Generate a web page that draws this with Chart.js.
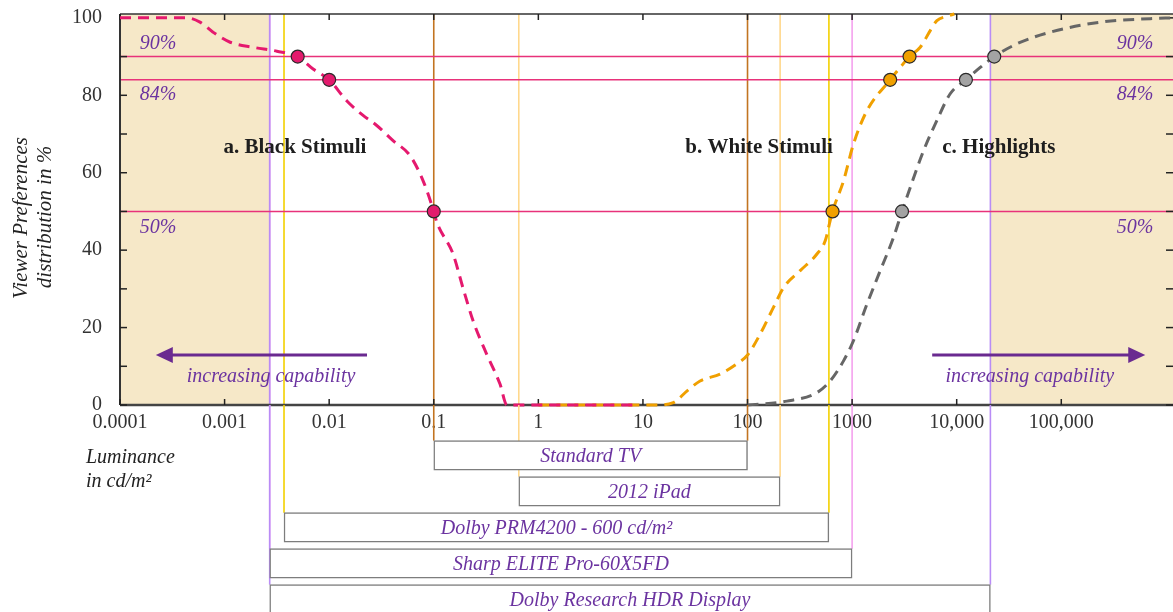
<!DOCTYPE html>
<html>
<head>
<meta charset="utf-8">
<script src="https://cdn.jsdelivr.net/npm/chart.js@4.4.1/dist/chart.umd.min.js"></script>
<style>
html,body{margin:0;padding:0;background:#fff;overflow:hidden;}
#wrap{position:relative;width:1173px;height:612px;}
#top{position:absolute;left:0;top:0;width:1173px;height:440px;}
#bot{position:absolute;left:0;top:405px;width:1173px;height:215px;}
</style>
</head>
<body>
<div id="wrap">
  <div id="top"><canvas id="mainChart"></canvas></div>
  <div id="bot"><canvas id="displayChart"></canvas></div>
</div>
<script>
// axis ticks
const xTicks = [0.0001, 0.001, 0.01, 0.1, 1, 10, 100, 1000, 10000, 100000];
const xTickLabels = ["0.0001", "0.001", "0.01", "0.1", "1", "10", "100", "1000", "10,000", "100,000"];
const yTicks = [0, 10, 20, 30, 40, 50, 60, 70, 80, 90, 100];
const yTickLabels = ["0", "", "20", "", "40", "", "60", "", "80", "", "100"];

// a. black stimuli (cd/m2 -> % of viewers)
const blackX = [0.0001, 0.000435, 0.000582, 0.000776, 0.00113, 0.00187, 0.00316, 0.005, 0.00702, 0.01, 0.0147, 0.0211, 0.0285, 0.0408, 0.0594, 0.0791, 0.1, 0.107, 0.153, 0.19, 0.238, 0.321, 0.43, 0.5, 8];
const blackY = [100, 100, 98.9, 96.3, 93.7, 92.4, 91.4, 90, 86.8, 84, 78.6, 74.8, 72.2, 68.3, 64.4, 57.9, 50, 47.2, 39, 30.3, 21.7, 13.1, 5.4, 0, 0];
// b. white stimuli
const whiteX = [1, 13.6, 19.5, 26.3, 35.2, 54.7, 79, 100, 132, 177, 221, 319, 461, 553, 617, 650, 828, 1030, 1384, 2312, 2884, 3541, 4480, 5585, 6470, 8070, 9500];
const whiteY = [0, 0, 0.6, 3.6, 6.2, 8, 10.6, 12.9, 18.3, 25.2, 30.3, 34.7, 39, 42.4, 47.6, 50, 57.9, 67.4, 76, 84, 87.2, 90, 92.4, 96.7, 99.3, 100.4, 101];
// c. highlights
const highX = [100, 238, 461, 617, 828, 1030, 1384, 1857, 2489, 3000, 3597, 4823, 6470, 8670, 12250, 16790, 22860, 37670, 78400, 236000, 710000, 1170000];
const highY = [0, 1, 3.2, 6.2, 11.4, 16.6, 26, 34.7, 43.3, 50, 56.2, 65.7, 73.5, 80.4, 84, 87.2, 90, 93.3, 96.3, 98.9, 99.8, 100];

// marked percentiles
const blackMarkX = [0.005, 0.01, 0.1];
const blackMarkY = [90, 84, 50];
const whiteMarkX = [650, 2312, 3541];
const whiteMarkY = [50, 84, 90];
const highMarkX = [3000, 12250, 22860];
const highMarkY = [50, 84, 90];

const refLevels = [90, 84, 50];
const refLabels = ["90%", "84%", "50%"];
const regionLabels = ["a. Black Stimuli", "b. White Stimuli", "c. Highlights"];

// display luminance ranges
const displayNames = ["Standard TV", "2012 iPad", "Dolby PRM4200 - 600 cd/m\u00B2", "Sharp ELITE Pro-60X5FD", "Dolby Research HDR Display"];
const displayMin = [0.1, 0.65, 0.0037, 0.0027, 0.0027];
const displayMax = [100, 205, 600, 1000, 21000];

// styles
const displayColors = ["#c27421", "#ffd88c", "#f3d000", "#f4a2ee", "#b98cf6"];
const serif = "'Liberation Serif', 'DejaVu Serif', serif";
const purple = "#6b33a0";
const X_MAX = 1.17e6;

function pts(xs, ys){ return xs.map((x, i) => ({x, y: ys[i]})); }
function curve(xs, ys, color){
  return { data: pts(xs, ys), borderColor: color, borderWidth: 3, borderDash: [11, 7], order: 2,
    pointRadius: 0, cubicInterpolationMode: "monotone", clip: 6, fill: false };
}
function marks(xs, ys, color){
  return { data: pts(xs, ys), showLine: false, pointRadius: 6.5, pointBackgroundColor: color, order: 1,
    pointBorderColor: "#2a2a2a", pointBorderWidth: 1.2, borderColor: color, clip: 10 };
}
// drop the automatic label padding so the plot box sits where the figure has it
function noPad(s){ s.paddingTop = 0; s.paddingBottom = 0; s.paddingLeft = 0; s.paddingRight = 0; }

// ---------- main chart decoration ----------
const mainDecor = {
  id: "mainDecor",
  beforeDatasetsDraw(chart){
    const {ctx, chartArea: a, scales: {x, y}} = chart;
    ctx.save();
    // shaded "beyond capability" zones
    const lo = x.getPixelForValue(displayMin[4]);
    const hi = x.getPixelForValue(displayMax[4]);
    ctx.fillStyle = "#f6e8c8";
    ctx.fillRect(a.left, a.top, lo - a.left, a.bottom - a.top);
    ctx.fillRect(hi, a.top, a.right - hi, a.bottom - a.top);
    // display range lines
    ctx.lineWidth = 1.6;
    displayNames.forEach((n, i) => {
      ctx.strokeStyle = displayColors[i];
      [displayMin[i], displayMax[i]].forEach(v => {
        const px = x.getPixelForValue(v);
        ctx.beginPath(); ctx.moveTo(px, a.top); ctx.lineTo(px, a.bottom); ctx.stroke();
      });
    });
    // percentile lines
    ctx.strokeStyle = "#e8327a";
    ctx.lineWidth = 1.5;
    refLevels.forEach(v => {
      const py = y.getPixelForValue(v);
      ctx.beginPath(); ctx.moveTo(a.left, py); ctx.lineTo(a.right, py); ctx.stroke();
    });
    // frame
    ctx.strokeStyle = "#333";
    ctx.lineWidth = 1.5;
    ctx.beginPath(); ctx.moveTo(a.left, a.top); ctx.lineTo(a.right, a.top); ctx.stroke();
    ctx.lineWidth = 2;
    ctx.beginPath(); ctx.moveTo(a.left, a.top); ctx.lineTo(a.left, a.bottom); ctx.stroke();
    ctx.strokeStyle = "#444";
    ctx.lineWidth = 2.5;
    ctx.beginPath(); ctx.moveTo(a.left, a.bottom); ctx.lineTo(a.right, a.bottom); ctx.stroke();
    // inward tick marks
    ctx.strokeStyle = "#222";
    ctx.lineWidth = 1.5;
    yTicks.forEach(v => {
      const py = y.getPixelForValue(v);
      ctx.beginPath(); ctx.moveTo(a.left, py); ctx.lineTo(a.left + 7, py); ctx.stroke();
      ctx.beginPath(); ctx.moveTo(a.right, py); ctx.lineTo(a.right - 7, py); ctx.stroke();
    });
    xTicks.forEach(v => {
      const px = x.getPixelForValue(v);
      ctx.beginPath(); ctx.moveTo(px, a.top); ctx.lineTo(px, a.top + 6); ctx.stroke();
      ctx.beginPath(); ctx.moveTo(px, a.bottom); ctx.lineTo(px, a.bottom - 6); ctx.stroke();
    });
    ctx.restore();
  },
  afterDatasetsDraw(chart){
    const {ctx, scales: {x, y}} = chart;
    ctx.save();
    ctx.textAlign = "center";
    ctx.textBaseline = "middle";
    // percentile labels, both sides
    ctx.fillStyle = purple;
    ctx.font = "italic 20px " + serif;
    const labelY = [93.3, 80.1, 45.7];
    refLabels.forEach((t, i) => {
      const py = y.getPixelForValue(labelY[i]);
      ctx.fillText(t, x.getPixelForValue(0.000231), py);
      ctx.fillText(t, x.getPixelForValue(507000), py);
    });
    // region titles
    ctx.fillStyle = "#1e1e1e";
    ctx.font = "bold 21px " + serif;
    const regionX = [0.00471, 129, 25300];
    regionLabels.forEach((t, i) => ctx.fillText(t, x.getPixelForValue(regionX[i]), y.getPixelForValue(66.4)));
    // capability arrows
    const ay = y.getPixelForValue(12.9);
    const arrow = (from, to) => {
      const x0 = x.getPixelForValue(from), x1 = x.getPixelForValue(to);
      const dir = Math.sign(x1 - x0);
      ctx.strokeStyle = "#6a2a90"; ctx.fillStyle = "#6a2a90"; ctx.lineWidth = 3;
      ctx.beginPath(); ctx.moveTo(x0, ay); ctx.lineTo(x1 - dir * 14, ay); ctx.stroke();
      ctx.beginPath(); ctx.moveTo(x1, ay); ctx.lineTo(x1 - dir * 17, ay - 8); ctx.lineTo(x1 - dir * 17, ay + 8); ctx.closePath(); ctx.fill();
    };
    arrow(0.023, 0.00022);
    arrow(5830, 635000);
    ctx.fillStyle = purple;
    ctx.font = "italic 20px " + serif;
    const ty = y.getPixelForValue(7.2);
    ctx.fillText("increasing capability", x.getPixelForValue(0.00278), ty);
    ctx.fillText("increasing capability", x.getPixelForValue(50000), ty);
    // y axis title
    ctx.fillStyle = "#222";
    ctx.font = "italic 21px " + serif;
    ctx.save(); ctx.translate(21, 218); ctx.rotate(-Math.PI / 2); ctx.fillText("Viewer Preferences", 0, 0); ctx.restore();
    ctx.save(); ctx.translate(45, 217); ctx.rotate(-Math.PI / 2); ctx.fillText("distribution in %", 0, 0); ctx.restore();
    ctx.restore();
  }
};

const mainChart = new Chart(document.getElementById("mainChart"), {
  type: "line",
  data: {
    datasets: [
      curve(blackX, blackY, "#e5196e"),
      curve(whiteX, whiteY, "#f0a000"),
      curve(highX, highY, "#666666"),
      marks(blackMarkX, blackMarkY, "#e31b6d"),
      marks(whiteMarkX, whiteMarkY, "#f0a000"),
      marks(highMarkX, highMarkY, "#a3a3a3")
    ]
  },
  options: {
    responsive: true,
    maintainAspectRatio: false,
    animation: false,
    layout: { autoPadding: false, padding: { top: 14, left: 0, right: 0, bottom: 0 } },
    plugins: { legend: { display: false }, tooltip: { enabled: false } },
    scales: {
      x: {
        type: "logarithmic", min: 0.0001, max: X_MAX,
        grid: { display: false, drawTicks: false }, border: { display: false },
        afterBuildTicks: s => { s.ticks = xTicks.map(v => ({ value: v })); },
        afterFit: s => { s.height = 35; noPad(s); },
        ticks: { autoSkip: false, maxRotation: 0, minRotation: 0, padding: 6, color: "#333",
          font: { family: serif, size: 20 }, callback: (v, i) => xTickLabels[i] }
      },
      y: {
        min: 0, max: 101,
        grid: { display: false, drawTicks: false }, border: { display: false },
        afterBuildTicks: s => { s.ticks = yTicks.map(v => ({ value: v })); },
        afterFit: s => { s.width = 120; noPad(s); },
        ticks: { padding: 18, color: "#333", font: { family: serif, size: 20 }, callback: (v, i) => yTickLabels[i] }
      }
    }
  },
  plugins: [mainDecor]
});

// ---------- display range boxes ----------
const displayDecor = {
  id: "displayDecor",
  beforeDatasetsDraw(chart){
    const {ctx, scales: {x}} = chart;
    const bars = chart.getDatasetMeta(0).data;
    ctx.save();
    ctx.lineWidth = 1.6;
    displayNames.forEach((n, i) => {
      const top = bars[i].y - bars[i].height / 2;
      ctx.strokeStyle = displayColors[i];
      [displayMin[i], displayMax[i]].forEach(v => {
        const px = x.getPixelForValue(v);
        ctx.beginPath(); ctx.moveTo(px, 0); ctx.lineTo(px, top); ctx.stroke();
      });
    });
    ctx.restore();
  },
  afterDatasetsDraw(chart){
    const {ctx} = chart;
    const bars = chart.getDatasetMeta(0).data;
    ctx.save();
    ctx.textAlign = "center";
    ctx.textBaseline = "middle";
    ctx.fillStyle = purple;
    ctx.font = "italic 20px " + serif;
    bars.forEach((b, i) => ctx.fillText(displayNames[i], (b.x + b.base) / 2, b.y + 1));
    ctx.textAlign = "left";
    ctx.fillStyle = "#222";
    ctx.fillText("Luminance", 86, 53);
    ctx.fillText("in cd/m\u00B2", 86, 77);
    ctx.restore();
  }
};

const displayChart = new Chart(document.getElementById("displayChart"), {
  type: "bar",
  data: {
    labels: displayNames,
    datasets: [{
      data: displayNames.map((n, i) => [displayMin[i], displayMax[i]]),
      backgroundColor: "#ffffff",
      borderColor: "#7d7d7d",
      borderWidth: 1.5,
      borderSkipped: false,
      barThickness: 29.5
    }]
  },
  options: {
    indexAxis: "y",
    responsive: true,
    maintainAspectRatio: false,
    animation: false,
    layout: { autoPadding: false, padding: { left: 120, right: 0, top: 32.4, bottom: 2.6 } },
    plugins: { legend: { display: false }, tooltip: { enabled: false } },
    scales: {
      x: { type: "logarithmic", min: 0.0001, max: X_MAX, display: false },
      y: { display: false }
    }
  },
  plugins: [displayDecor]
});
</script>
</body>
</html>
